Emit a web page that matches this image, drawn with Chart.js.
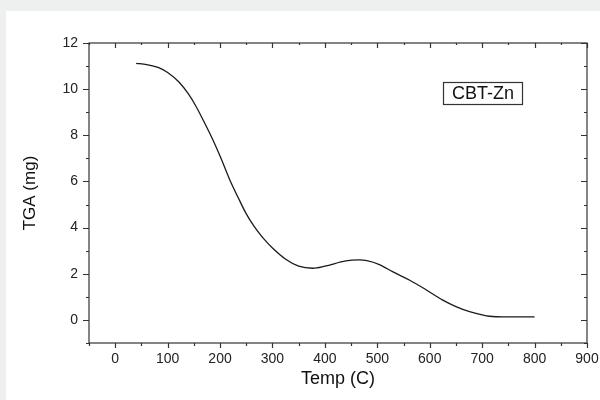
<!DOCTYPE html>
<html>
<head>
<meta charset="utf-8">
<script src="https://cdn.jsdelivr.net/npm/chart.js@4/dist/chart.umd.min.js"></script>
<style>
  html, body { margin: 0; padding: 0; background: #eef0ef; }
  #panel { position: absolute; left: 6px; top: 11px; width: 594px; height: 389px; background: #fff; }
  canvas { display: block; }
</style>
</head>
<body>
<div id="panel"><canvas id="tgaChart" width="594" height="389"></canvas></div>
<script>
// data
const temps = [40, 60, 84, 100, 122, 140, 154, 170, 186, 200, 218, 235, 249, 265, 281, 300, 326, 350, 377, 400, 440, 465, 480, 504, 530, 561, 590, 624, 650, 676, 700, 714, 740, 770, 800];
const tga   = [11.12, 11.06, 10.92, 10.72, 10.3, 9.78, 9.26, 8.56, 7.82, 7.1, 6.1, 5.28, 4.64, 4.05, 3.58, 3.12, 2.62, 2.33, 2.24, 2.33, 2.56, 2.6, 2.57, 2.4, 2.08, 1.73, 1.35, 0.87, 0.58, 0.36, 0.22, 0.16, 0.13, 0.13, 0.13];
const xTicks = [0, 100, 200, 300, 400, 500, 600, 700, 800, 900];
const yTicks = [0, 2, 4, 6, 8, 10, 12];
const seriesName = 'CBT-Zn';

const FONT = 'Arial, "Liberation Sans", sans-serif';
const AXIS_COLOR = '#333';

// frame + minor/major ticks on all four sides, plus the boxed label
const framePlugin = {
    id: 'frame',
    afterDraw(chart) {
        const ctx = chart.ctx;
        const a = chart.chartArea;
        const xs = chart.scales.x, ys = chart.scales.y;
        ctx.save();
        ctx.strokeStyle = AXIS_COLOR;
        ctx.lineWidth = 1.2;
        ctx.strokeRect(a.left, a.top, a.right - a.left, a.bottom - a.top);

        const xMinor = xTicks.map(v => v - 50);
        const yMinor = yTicks.map(v => v - 1);
        ctx.beginPath();
        xTicks.forEach(v => {
            const px = Math.round(xs.getPixelForValue(v)) + 0.5;
            ctx.moveTo(px, a.bottom); ctx.lineTo(px, a.bottom + 5);
            ctx.moveTo(px, a.top); ctx.lineTo(px, a.top + 5);
        });
        xMinor.forEach(v => {
            const px = Math.round(xs.getPixelForValue(v)) + 0.5;
            ctx.moveTo(px, a.bottom); ctx.lineTo(px, a.bottom + 3);
            ctx.moveTo(px, a.top); ctx.lineTo(px, a.top + 2);
        });
        yTicks.forEach(v => {
            const py = Math.round(ys.getPixelForValue(v)) + 0.5;
            ctx.moveTo(a.left, py); ctx.lineTo(a.left - 6, py);
            ctx.moveTo(a.right, py); ctx.lineTo(a.right - 6, py);
        });
        yMinor.forEach(v => {
            const py = Math.round(ys.getPixelForValue(v)) + 0.5;
            ctx.moveTo(a.left, py); ctx.lineTo(a.left - 3, py);
            ctx.moveTo(a.right, py); ctx.lineTo(a.right - 3, py);
        });
        ctx.stroke();

        // boxed series label
        const bx = Math.round(xs.getPixelForValue(625)) + 0.5;
        const by = Math.round(ys.getPixelForValue(10.3)) + 0.5;
        ctx.fillStyle = '#fff';
        ctx.fillRect(bx, by, 79, 22);
        ctx.lineWidth = 1.2;
        ctx.strokeRect(bx, by, 79, 22);
        ctx.fillStyle = '#111';
        ctx.font = '18px ' + FONT;
        ctx.textAlign = 'center';
        ctx.textBaseline = 'middle';
        ctx.fillText(seriesName, bx + 39.5, by + 12);
        ctx.restore();
    }
};

new Chart(document.getElementById('tgaChart'), {
    type: 'line',
    data: {
        datasets: [{
            label: seriesName,
            data: temps.map((t, i) => ({ x: t, y: tga[i] })),
            borderColor: '#1a1a1a',
            borderWidth: 1.3,
            pointRadius: 0,
            cubicInterpolationMode: 'monotone',
            fill: false
        }]
    },
    options: {
        responsive: false,
        animation: false,
        layout: { padding: { top: 32, right: 13, left: 0, bottom: 0 } },
        plugins: { legend: { display: false }, tooltip: { enabled: false } },
        scales: {
            x: {
                type: 'linear',
                min: -50, max: 900,
                border: { display: false },
                grid: { display: false, drawTicks: false },
                afterBuildTicks: s => { s.ticks = xTicks.map(v => ({ value: v })); },
                afterFit: s => { s.height = 57; s.paddingLeft = 0; s.paddingRight = 0; },
                ticks: { color: '#222', padding: 8, maxRotation: 0, font: { family: FONT, size: 14 } },
                title: { display: true, text: 'Temp (C)', color: '#111', padding: { top: 0, bottom: 10 }, font: { family: FONT, size: 18 } }
            },
            y: {
                min: -1, max: 12,
                border: { display: false },
                grid: { display: false, drawTicks: false },
                afterBuildTicks: s => { s.ticks = yTicks.map(v => ({ value: v })); },
                afterFit: s => { s.width = 83; s.paddingTop = 0; s.paddingBottom = 0; },
                ticks: { color: '#222', padding: 11, font: { family: FONT, size: 14 } },
                title: { display: true, text: 'TGA (mg)', color: '#111', padding: { top: 14, bottom: 0 }, font: { family: FONT, size: 17 } }
            }
        }
    },
    plugins: [framePlugin]
});
</script>
</body>
</html>
